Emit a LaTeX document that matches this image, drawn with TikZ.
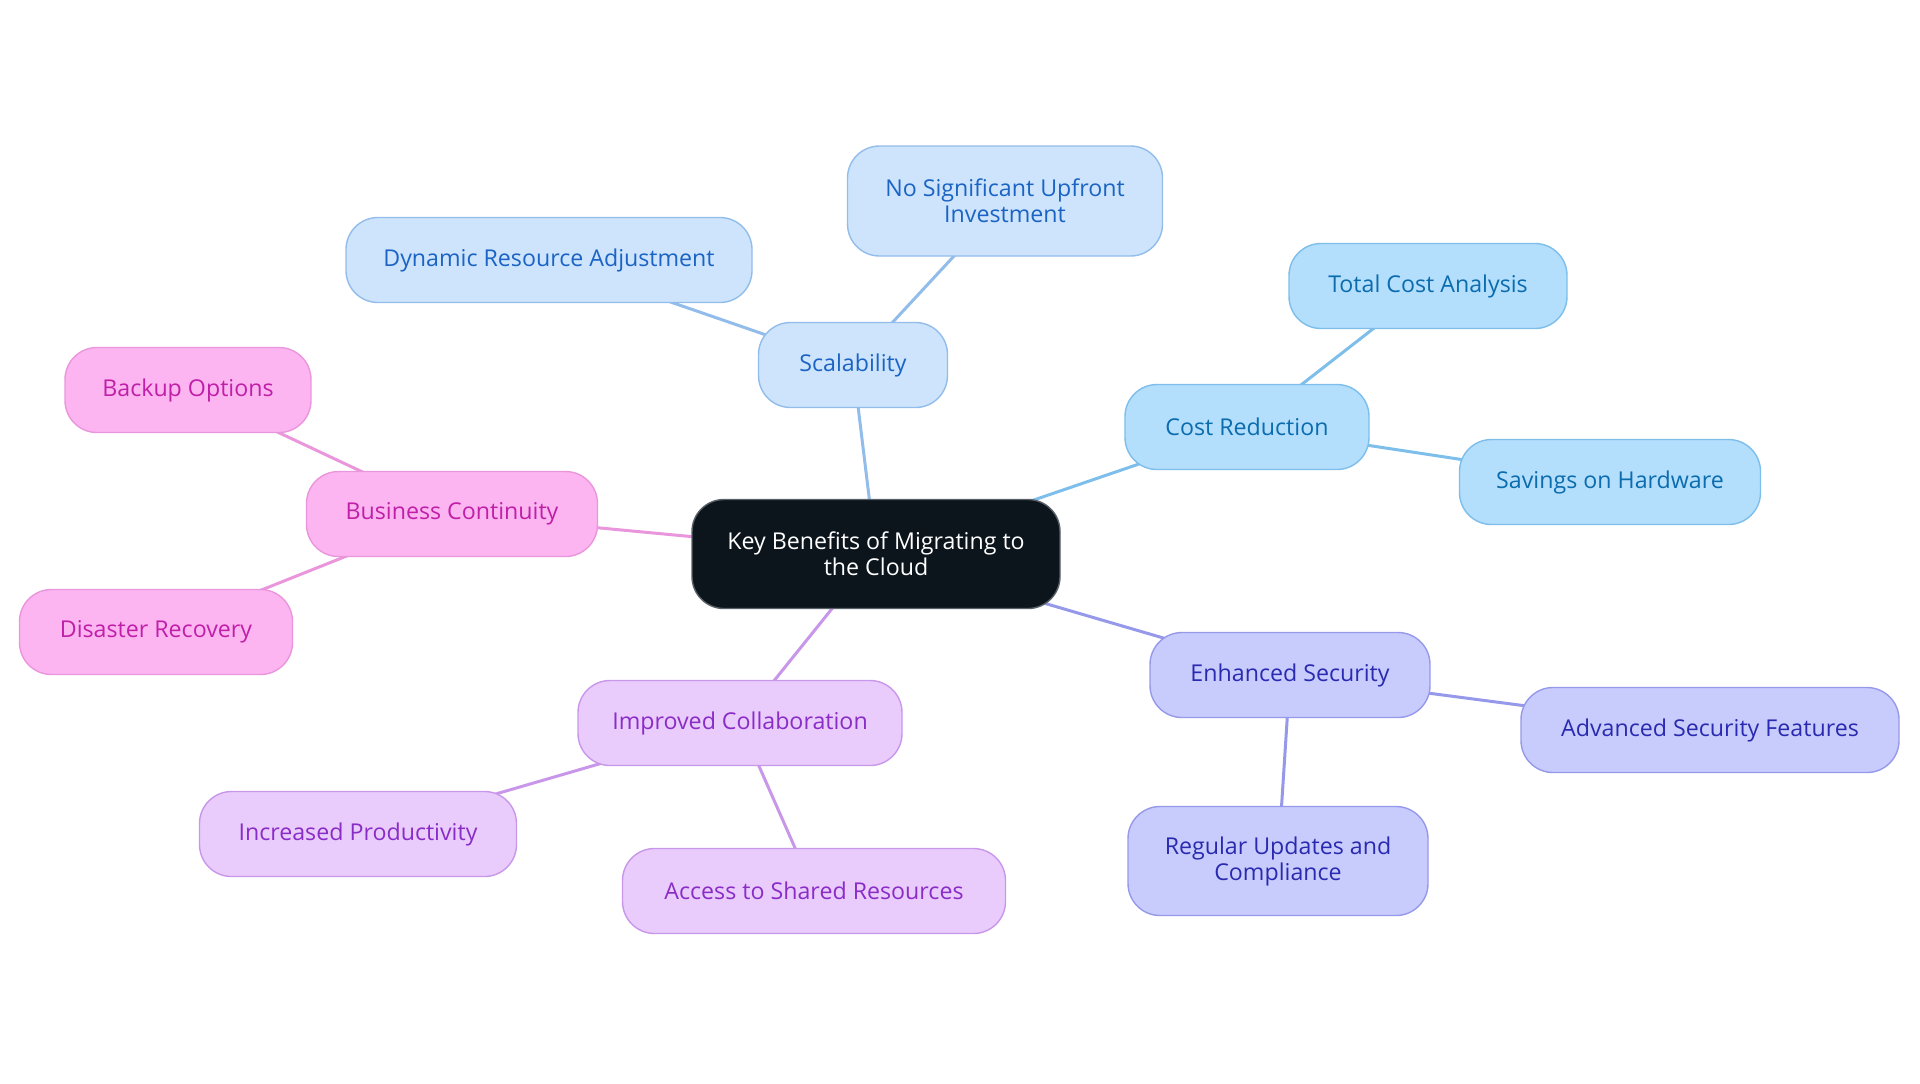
\documentclass[tikz,border=0pt]{standalone}
\usepackage{fontspec}
\setmainfont{Open Sans}
\usetikzlibrary{positioning, backgrounds}

\definecolor{rootfill}{HTML}{0C141C}
\definecolor{rootline}{HTML}{5A6068}
% scalability branch
\definecolor{scfill}{HTML}{CDE4FC}
\definecolor{scline}{HTML}{92BDEA}
\definecolor{sctext}{HTML}{1B64C4}
% cost branch
\definecolor{cofill}{HTML}{B3DEFC}
\definecolor{coline}{HTML}{7DBEEA}
\definecolor{cotext}{HTML}{0B6CAE}
% continuity branch
\definecolor{bufill}{HTML}{FCB5F1}
\definecolor{buline}{HTML}{EA96DC}
\definecolor{butext}{HTML}{C01FA8}
% collaboration branch
\definecolor{imfill}{HTML}{E9CCFC}
\definecolor{imline}{HTML}{C997EA}
\definecolor{imtext}{HTML}{8A2CC6}
% security branch
\definecolor{enfill}{HTML}{C8CCFC}
\definecolor{enline}{HTML}{9699EA}
\definecolor{entext}{HTML}{2A2AB0}

\begin{document}
\begin{tikzpicture}[x=0.5pt, y=-0.5pt,
    every node/.style = {font=\fontsize{11.6}{13}\selectfont, align=center,
        rounded corners=16pt, line width=0.7pt, inner sep=2pt, minimum height=42.5pt},
    root/.style = {fill=rootfill, draw=rootline, text=white, minimum height=54.5pt},
    sc/.style = {fill=scfill, draw=scline, text=sctext},
    co/.style = {fill=cofill, draw=coline, text=cotext},
    bu/.style = {fill=bufill, draw=buline, text=butext},
    im/.style = {fill=imfill, draw=imline, text=imtext},
    en/.style = {fill=enfill, draw=enline, text=entext},
    link/.style = {line width=1.5pt}]
    \useasboundingbox (0,0) rectangle (1920,1083);

    \node[root, minimum width=184pt] (key) at (876,554) {Key Benefits of Migrating to\\the Cloud};

    \node[sc, minimum width=94.5pt] (scal) at (853,365) {Scalability};
    \node[sc, minimum width=157.5pt, minimum height=55pt] (upfront) at (1005,201) {No Significant Upfront\\Investment};
    \node[sc, minimum width=203pt] (dynamic) at (549,260) {Dynamic Resource Adjustment};

    \node[co, minimum width=122pt] (cost) at (1247,427) {Cost Reduction};
    \node[co, minimum width=139pt] (total) at (1428,286) {Total Cost Analysis};
    \node[co, minimum width=150.5pt] (savings) at (1610,482) {Savings on Hardware};

    \node[bu, minimum width=145.5pt] (business) at (452,514) {Business Continuity};
    \node[bu, minimum width=123pt] (backup) at (188,390) {Backup Options};
    \node[bu, minimum width=136.5pt] (disaster) at (156,632) {Disaster Recovery};

    \node[im, minimum width=162pt] (collab) at (740,723) {Improved Collaboration};
    \node[im, minimum width=158.5pt] (product) at (358,834) {Increased Productivity};
    \node[im, minimum width=191.5pt] (shared) at (814,891) {Access to Shared Resources};

    \node[en, minimum width=140pt] (security) at (1290,675) {Enhanced Security};
    \node[en, minimum width=189pt] (advanced) at (1710,730) {Advanced Security Features};
    \node[en, minimum width=150pt, minimum height=54.5pt] (updates) at (1278,861) {Regular Updates and\\Compliance};

    % links run centre to centre, behind the boxes
    \begin{scope}[on background layer]
        \draw[link, scline] (key.center) -- (scal.center) -- (upfront.center) (scal.center) -- (dynamic.center);
        \draw[link, coline] (key.center) -- (cost.center) -- (total.center) (cost.center) -- (savings.center);
        \draw[link, buline] (key.center) -- (business.center) -- (backup.center) (business.center) -- (disaster.center);
        \draw[link, imline] (key.center) -- (collab.center) -- (product.center) (collab.center) -- (shared.center);
        \draw[link, enline] (key.center) -- (security.center) -- (advanced.center) (security.center) -- (updates.center);
    \end{scope}
\end{tikzpicture}
\end{document}
